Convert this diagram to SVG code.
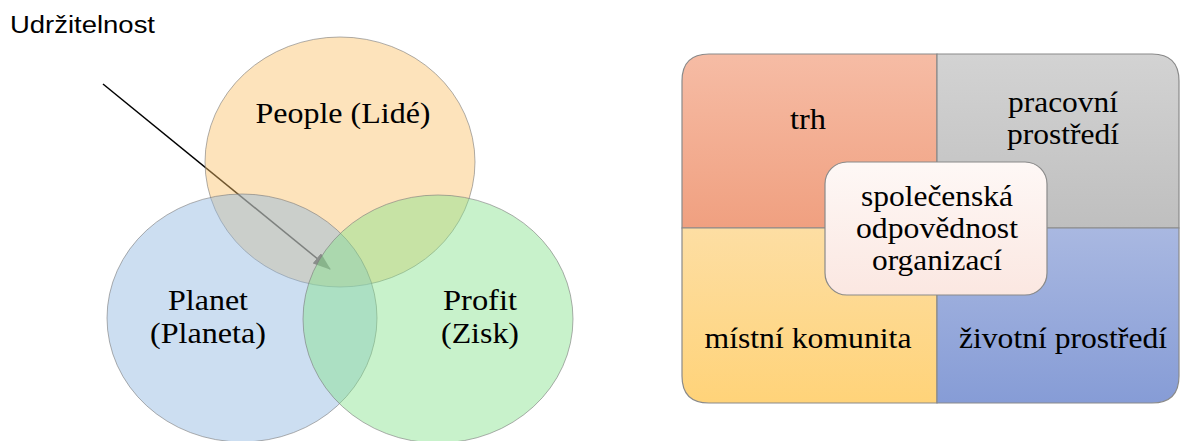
<svg xmlns="http://www.w3.org/2000/svg" width="1182" height="441" viewBox="0 0 1182 441">
<style>
.serif{fill:#000;text-anchor:middle}
.venn{fill-opacity:0.45;stroke:#7a7a7a;stroke-opacity:0.6;stroke-width:1}
.quad{stroke:#8a8a8a;stroke-width:1.2}
</style>
<defs>
<marker id="ah" markerWidth="18" markerHeight="13" refX="17" refY="6.5" orient="auto" markerUnits="userSpaceOnUse" viewBox="0 0 18 13">
<path d="M0,0 L18,6.5 L0,13 Z" fill="#2a2a2a"/>
</marker>
<linearGradient id="gTL" x1="0" y1="0" x2="0" y2="1"><stop offset="0" stop-color="#F6BCA5"/><stop offset="1" stop-color="#F0A080"/></linearGradient>
<linearGradient id="gTR" x1="0" y1="0" x2="0" y2="1"><stop offset="0" stop-color="#D3D3D3"/><stop offset="1" stop-color="#BFBFBF"/></linearGradient>
<linearGradient id="gBL" x1="0" y1="0" x2="0" y2="1"><stop offset="0" stop-color="#FDDEA3"/><stop offset="1" stop-color="#FFD379"/></linearGradient>
<linearGradient id="gBR" x1="0" y1="0" x2="0" y2="1"><stop offset="0" stop-color="#A9B8E1"/><stop offset="1" stop-color="#869CD6"/></linearGradient>
<linearGradient id="gC" x1="0" y1="0" x2="0" y2="1"><stop offset="0" stop-color="#FEF8F6"/><stop offset="1" stop-color="#FBE7E1"/></linearGradient>
</defs>
<rect width="1182" height="441" fill="#fff"/>
<g id="label-udrzitelnost">
<text x="10" y="33" font-family="Liberation Sans" font-size="23" fill="#000" textLength="145" lengthAdjust="spacingAndGlyphs">Udržitelnost</text>
</g>
<g id="connectors">
<line x1="103" y1="84" x2="330" y2="269" stroke="#000" stroke-width="1.5" marker-end="url(#ah)"/>
</g>
<g font-family="Liberation Serif" font-size="30">
<g id="node-people">
<ellipse class="venn" cx="340" cy="162" rx="135" ry="125" fill="#FAC068"/>
<text class="serif" x="343" y="123" textLength="175" lengthAdjust="spacingAndGlyphs">People (Lidé)</text>
</g>
<g id="node-planet">
<ellipse class="venn" cx="242" cy="318" rx="135" ry="124" fill="#8EB5E0"/>
<text class="serif" x="208" y="310" textLength="80" lengthAdjust="spacingAndGlyphs">Planet</text>
<text class="serif" x="208" y="343" textLength="116" lengthAdjust="spacingAndGlyphs">(Planeta)</text>
</g>
<g id="node-profit">
<ellipse class="venn" cx="438" cy="319" rx="135" ry="124" fill="#86E38C"/>
<text class="serif" x="480" y="310" textLength="74" lengthAdjust="spacingAndGlyphs">Profit</text>
<text class="serif" x="480" y="343" textLength="78" lengthAdjust="spacingAndGlyphs">(Zisk)</text>
</g>
<g id="node-trh">
<path class="quad" d="M682,228 L682,81 Q682,54 709,54 L937,54 L937,228 Z" fill="url(#gTL)"/>
<text class="serif" x="808" y="129" textLength="36" lengthAdjust="spacingAndGlyphs">trh</text>
</g>
<g id="node-pracovni">
<path class="quad" d="M937,54 L1152,54 Q1179,54 1179,81 L1179,228 L937,228 Z" fill="url(#gTR)"/>
<text class="serif" x="1063" y="112" textLength="110" lengthAdjust="spacingAndGlyphs">pracovní</text>
<text class="serif" x="1063" y="144" textLength="112" lengthAdjust="spacingAndGlyphs">prostředí</text>
</g>
<g id="node-mistni">
<path class="quad" d="M682,228 L937,228 L937,403 L709,403 Q682,403 682,376 Z" fill="url(#gBL)"/>
<text class="serif" x="808" y="348" textLength="207" lengthAdjust="spacingAndGlyphs">místní komunita</text>
</g>
<g id="node-zivotni">
<path class="quad" d="M937,228 L1179,228 L1179,376 Q1179,403 1152,403 L937,403 Z" fill="url(#gBR)"/>
<text class="serif" x="1063" y="348" textLength="208" lengthAdjust="spacingAndGlyphs">životní prostředí</text>
</g>
<g id="node-center">
<rect x="825" y="162" width="222" height="133" rx="22" ry="22" fill="url(#gC)" stroke="#8a8a8a" stroke-width="1.2"/>
<text class="serif" x="937" y="206" textLength="152" lengthAdjust="spacingAndGlyphs">společenská</text>
<text class="serif" x="937" y="238" textLength="162" lengthAdjust="spacingAndGlyphs">odpovědnost</text>
<text class="serif" x="937" y="270" textLength="130" lengthAdjust="spacingAndGlyphs">organizací</text>
</g>
</g>
</svg>
